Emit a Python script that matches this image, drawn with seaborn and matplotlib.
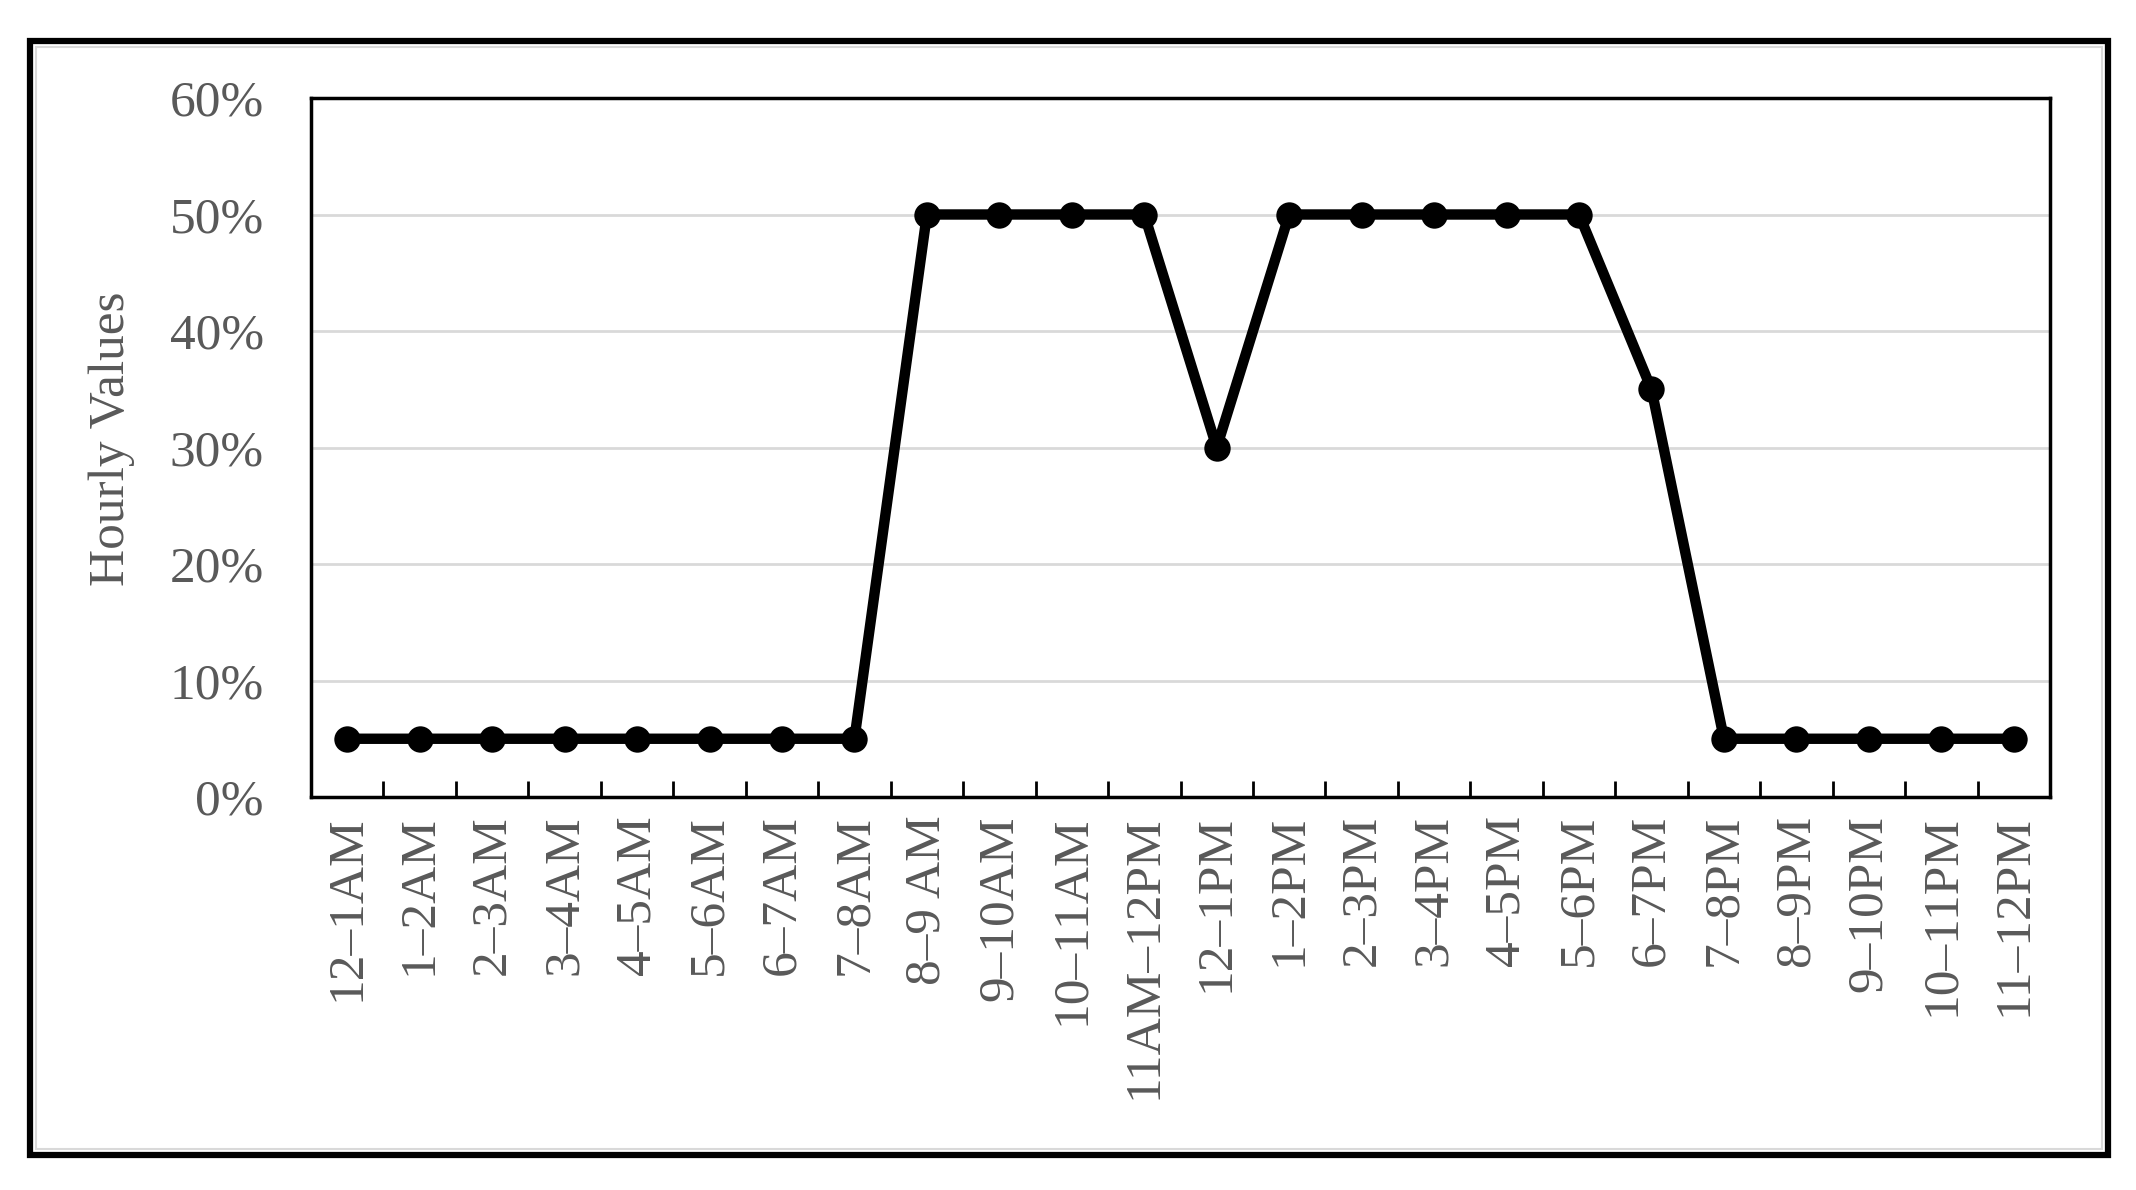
import numpy as np
import pandas as pd
import matplotlib
matplotlib.use("Agg")
import matplotlib.pyplot as plt
import seaborn as sns
from matplotlib.ticker import PercentFormatter
from matplotlib.patches import Rectangle

hours = ["12–1AM", "1–2AM", "2–3AM", "3–4AM", "4–5AM", "5–6AM", "6–7AM", "7–8AM",
         "8–9 AM", "9–10AM", "10–11AM", "11AM–12PM", "12–1PM", "1–2PM", "2–3PM",
         "3–4PM", "4–5PM", "5–6PM", "6–7PM", "7–8PM", "8–9PM", "9–10PM", "10–11PM",
         "11–12PM"]
values = [5, 5, 5, 5, 5, 5, 5, 5, 50, 50, 50, 50, 30, 50, 50, 50, 50, 50, 35, 5, 5, 5, 5, 5]
y_ticks = [0, 10, 20, 30, 40, 50, 60]

sns.set_theme(style="white")
plt.rcParams["font.family"] = ["Liberation Serif", "DejaVu Serif"]

W, H = 2136, 1190
fig = plt.figure(figsize=(W / 100, H / 100), dpi=100)
fig.patch.set_facecolor("white")

left, right, top, bottom = 311, 2050, 98, 797
ax = fig.add_axes([left / W, 1 - bottom / H, (right - left) / W, (bottom - top) / H])

df = pd.DataFrame({"pos": np.arange(len(hours)), "value": values})
sns.lineplot(data=df, x="pos", y="value", ax=ax, color="black", linewidth=7.5,
             marker="o", markersize=19, markeredgewidth=0, markeredgecolor="black")

ax.set_xlim(-0.5, len(hours) - 0.5)
ax.set_ylim(0, 60)
ax.set_yticks(y_ticks)
ax.yaxis.set_major_formatter(PercentFormatter(decimals=0))
ax.set_xticks(np.arange(len(hours)))
ax.set_xticklabels(hours, rotation=90)
ax.set_xticks(np.arange(0.5, len(hours) - 1, 1), minor=True)
ax.tick_params(axis="x", which="major", length=0, pad=13, labelsize=37, labelcolor="#595959")
ax.tick_params(axis="x", which="minor", direction="in", length=11.5, width=2,
               color="black", bottom=True)
ax.tick_params(axis="y", length=0, pad=34, labelsize=37, labelcolor="#595959")
ax.grid(axis="y", color="#d9d9d9", linewidth=2)
ax.grid(axis="x", visible=False)
ax.set_axisbelow(True)
for s in ax.spines.values():
    s.set_visible(True)
    s.set_color("black")
    s.set_linewidth(2.5)

ax.set_xlabel("")
ax.set_ylabel("Hourly Values", fontsize=37, color="#595959")
ax.yaxis.set_label_coords(-0.101, 0.512)

# outer frame
fx0, fx1, fy0, fy1 = 30, 2108, 41, 1155
fig.patches.append(Rectangle((fx0 / W, 1 - fy1 / H), (fx1 - fx0) / W, (fy1 - fy0) / H,
                             transform=fig.transFigure, fill=False, edgecolor="black",
                             linewidth=4.5, zorder=10))
fig.patches.append(Rectangle(((fx0 + 6) / W, 1 - (fy1 - 6) / H), (fx1 - fx0 - 12) / W,
                             (fy1 - fy0 - 12) / H, transform=fig.transFigure, fill=False,
                             edgecolor="#d9d9d9", linewidth=1.5, zorder=9))

fig.savefig("out.png", dpi=100, facecolor="white")
